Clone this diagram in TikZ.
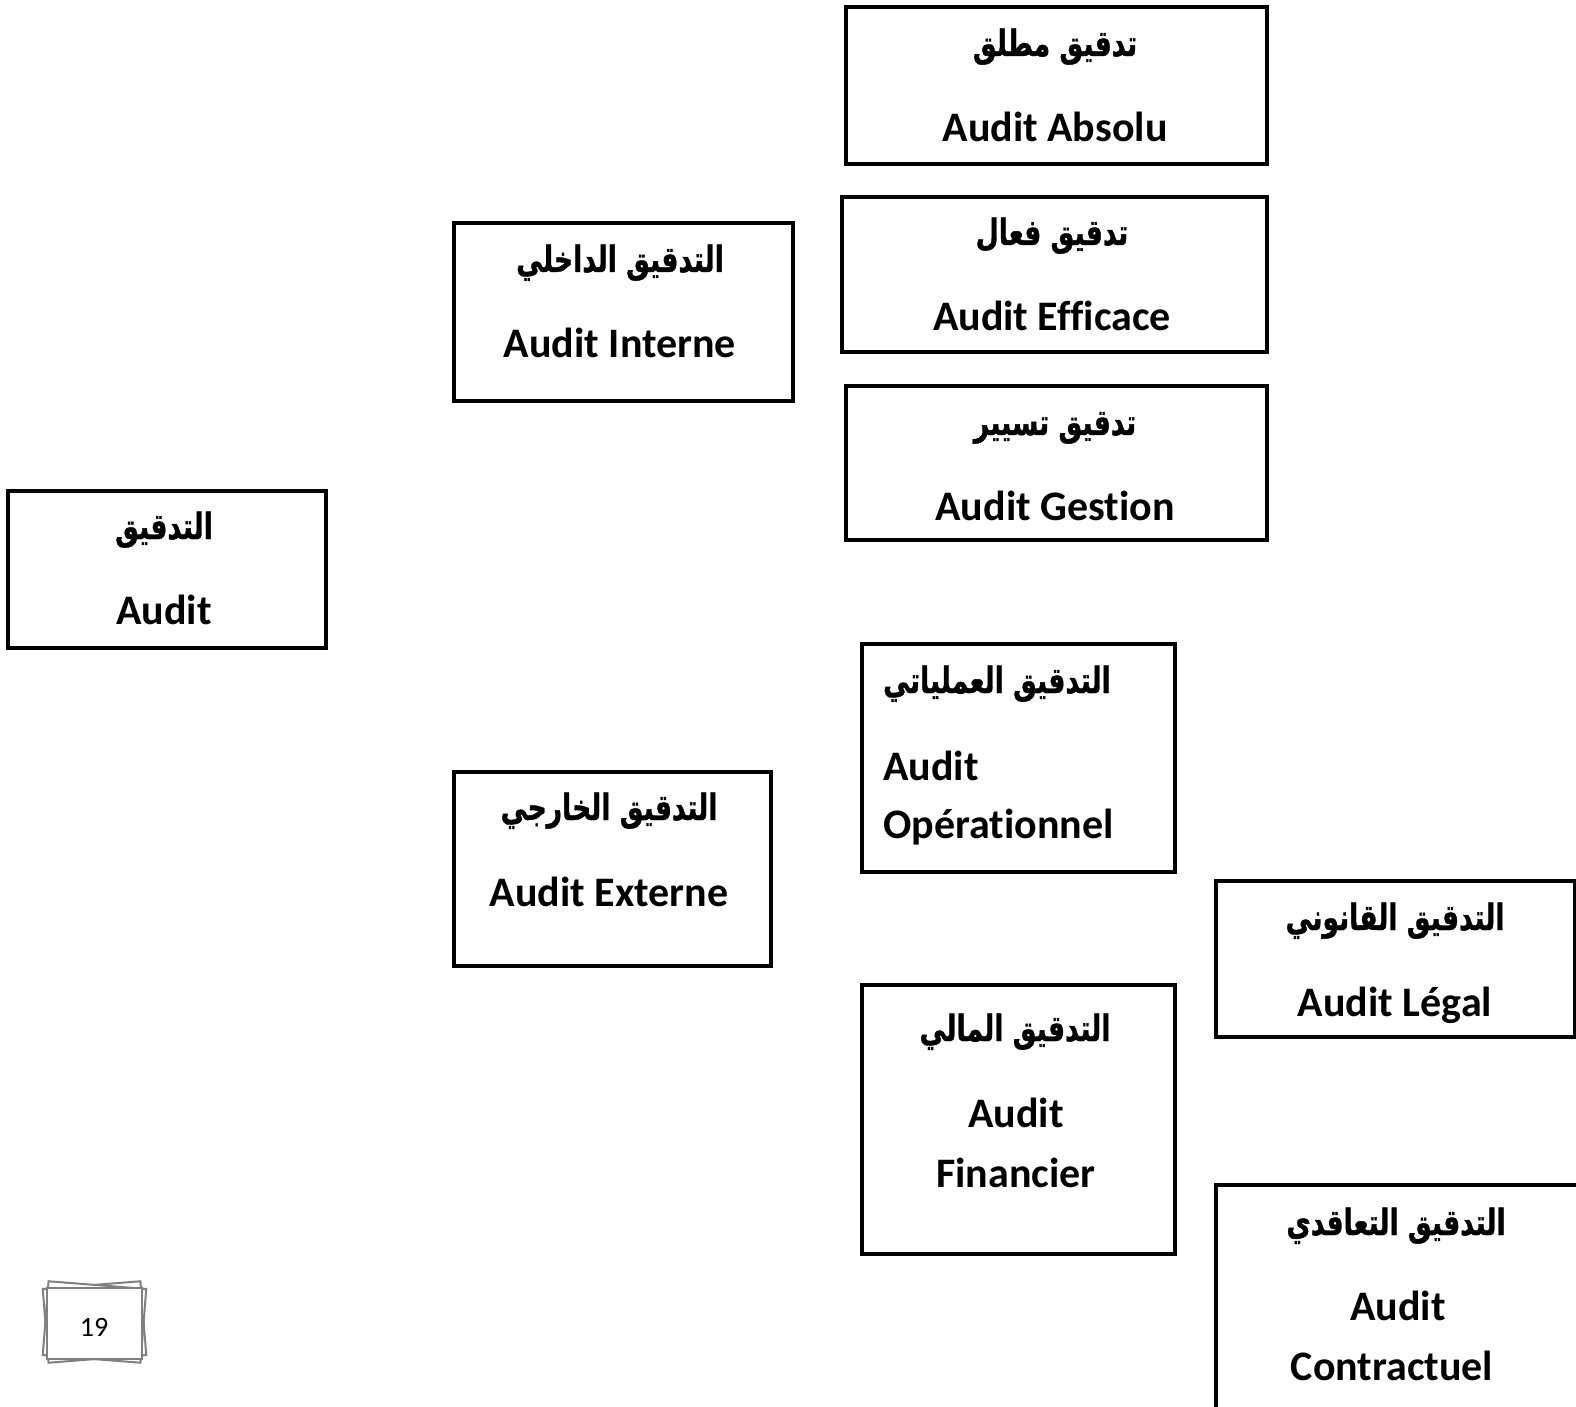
\documentclass[tikz,border=0pt]{standalone}
\usepackage{graphicx}
\usepackage{fontspec}
\setmainfont[Ligatures=NoCommon]{Carlito}
\newfontfamily\arabicfont[Script=Arabic, BoldFeatures={FakeBold=1.2}]{DejaVu Sans}
\TeXXeTstate=1
\newcommand\mybox[5]{\node[box, anchor=north west, minimum width={(#4-#2)*0.5pt}, minimum height={(#5-#3)*0.5pt}] (#1) at (#2,#3) {};}
\newcommand\ar[1]{\scalebox{0.74}[1]{\beginR #1\endR}}
\begin{document}
\begin{tikzpicture}[x=0.5pt,y=-0.5pt,
  box/.style={draw=black, line width=2pt, inner sep=0pt},
  lat/.style={font=\fontsize{21}{25}\selectfont\bfseries, anchor=base, inner sep=0pt},
  ara/.style={font=\fontsize{18}{22}\selectfont\arabicfont\bfseries, anchor=base, inner sep=0pt},
  pgback/.style={draw=gray, line width=1pt, fill=white, minimum width=49pt, minimum height=37pt, inner sep=0pt},
  pg/.style={draw=gray, line width=1pt, fill=white, minimum width=47.5pt, minimum height=35.5pt, inner sep=0pt},
]
\useasboundingbox (0,0) rectangle (1576,1407);
\begin{scope}
\clip (0,0) rectangle (1576,1407);
% boxes
\mybox{audit}{6}{489}{324}{646}
\mybox{interne}{452}{221}{791}{399}
\mybox{externe}{452}{770}{769}{964}
\mybox{absolu}{844}{5}{1265}{162}
\mybox{efficace}{840}{195}{1265}{350}
\mybox{gestion}{844}{384}{1265}{538}
\mybox{oper}{860}{642}{1173}{870}
\mybox{fin}{860}{983}{1173}{1252}
\mybox{legal}{1214}{879}{1573}{1035}
\mybox{contr}{1214}{1183}{1620}{1460}
\end{scope}
% texts
\node[ara] (t1a) at (164,539) {\ar{التدقيق}};
\node[lat] (t1l) at (164,624) {Audit};
\node[ara] (t2a) at (620,272) {\ar{التدقيق الداخلي}};
\node[lat] (t2l) at (620,358) {Audit Interne};
\node[ara] (t3a) at (609,820) {\ar{التدقيق الخارجي}};
\node[lat] (t3l) at (609,906) {Audit Externe};
\node[ara] (t4a) at (1055,56) {\ar{تدقيق مطلق}};
\node[lat] (t4l) at (1055,142) {Audit Absolu};
\node[ara] (t5a) at (1052,245) {\ar{تدقيق فعال}};
\node[lat] (t5l) at (1052,331) {Audit Efficace};
\node[ara] (t6a) at (1055,435) {\ar{تدقيق تسيير}};
\node[lat] (t6l) at (1055,521) {Audit Gestion};
\node[ara] (t7a) at (997,693) {\ar{التدقيق العملياتي}};
\node[lat, anchor=base west] (t7l) at (883,780) {Audit};
\node[lat, anchor=base west] (t7m) at (883,838) {Opérationnel};
\node[ara] (t8a) at (1015,1041) {\ar{التدقيق المالي}};
\node[lat] (t8l) at (1016,1127) {Audit};
\node[lat] (t8m) at (1016,1187) {Financier};
\node[ara] (t9a) at (1395,930) {\ar{التدقيق القانوني}};
\node[lat] (t9l) at (1395,1016) {Audit Légal};
\node[ara] (t10a) at (1396,1235) {\ar{التدقيق التعاقدي}};
\node[lat] (t10l) at (1398,1320) {Audit};
\node[lat] (t10m) at (1392,1380) {Contractuel};
% page number
\node[pgback, rotate=4.5] (pgA) at (94.5,1322) {};
\node[pgback, rotate=-4.5] (pgB) at (94.5,1322) {};
\node[pg] (pgC) at (94.5,1323) {};
\node[font=\fontsize{14}{16}\selectfont, inner sep=0pt] (pgnum) at (94,1327) {19};
\end{tikzpicture}
\end{document}
